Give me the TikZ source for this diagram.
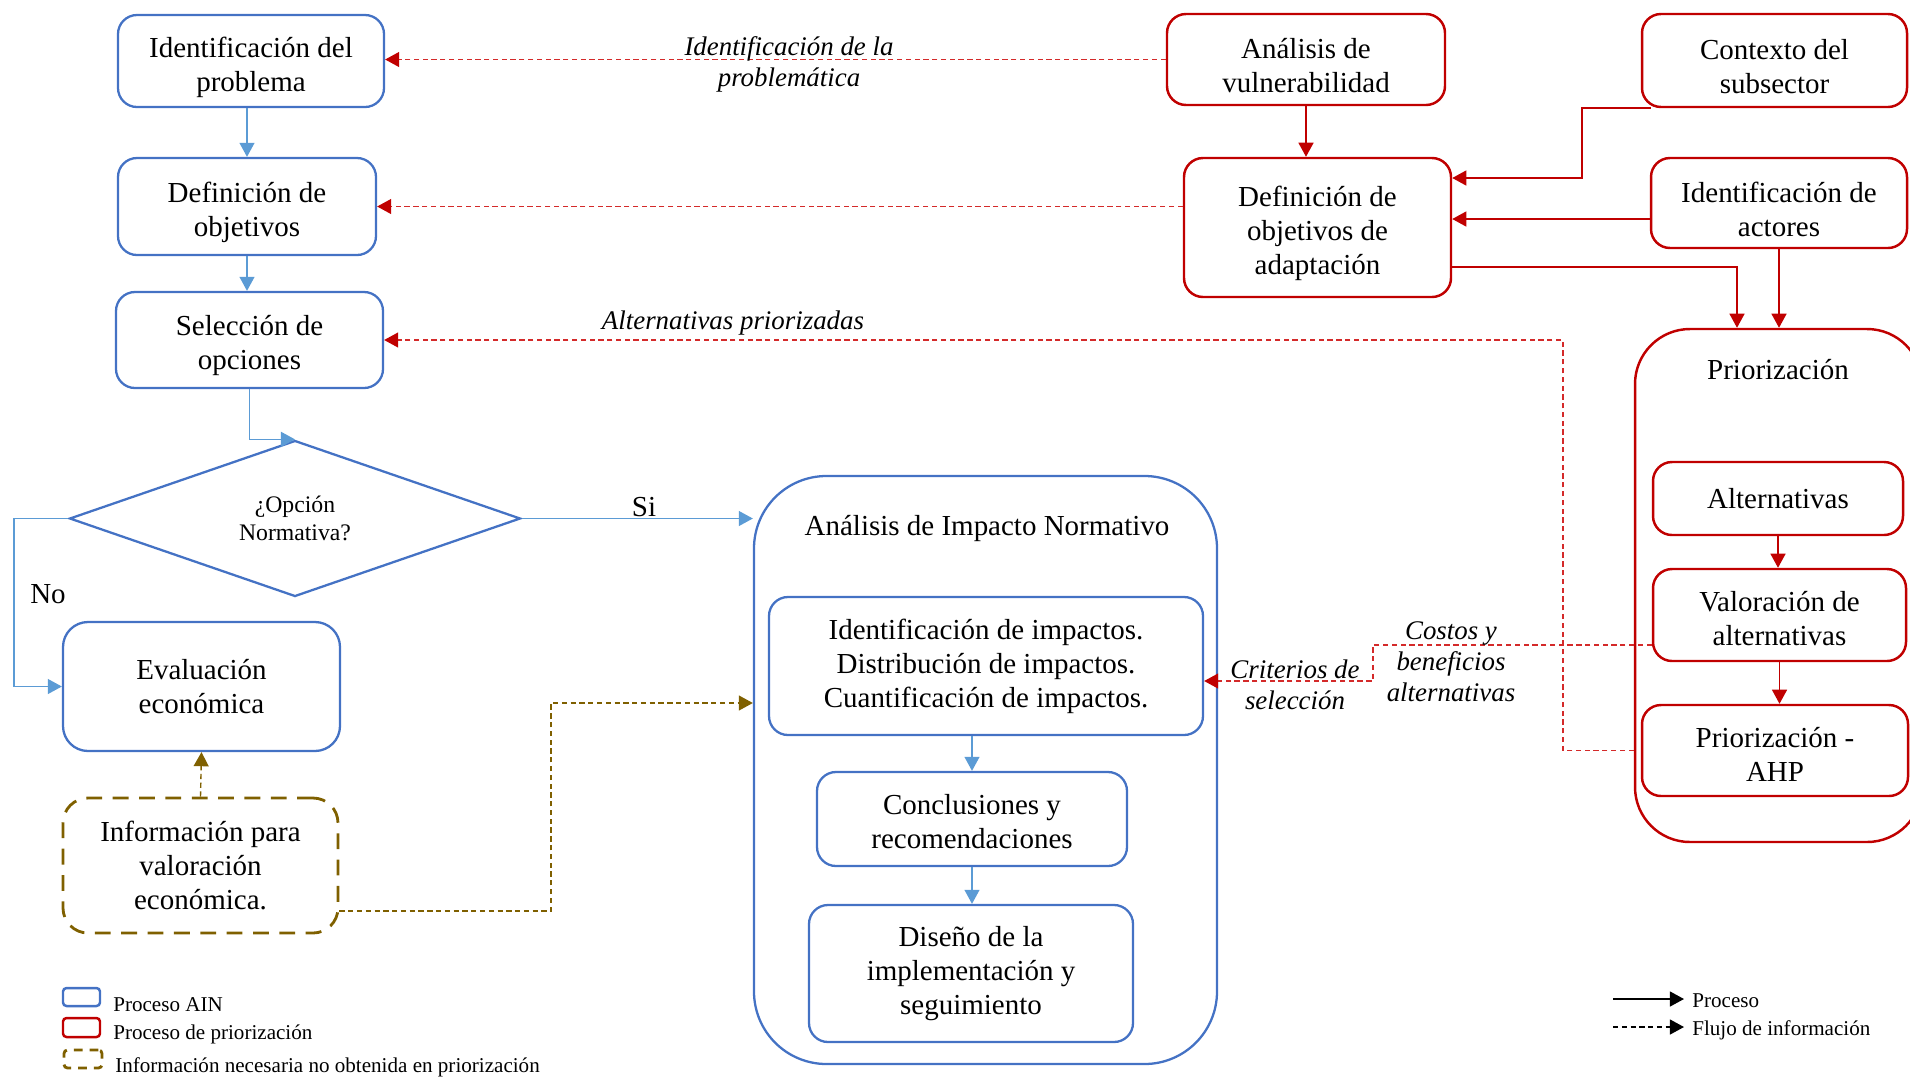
\documentclass[tikz,border=0pt]{standalone}
\usepackage{fontspec}
\setmainfont{Liberation Serif}
\usetikzlibrary{arrows.meta,shapes.geometric}

\definecolor{ainblue}{HTML}{4472C4}
\definecolor{flowblue}{HTML}{5B9BD5}
\definecolor{prred}{HTML}{C00000}
\definecolor{infored}{HTML}{D42A2A}
\definecolor{infobrown}{HTML}{7F6000}

\newcommand\bxfont{\fontsize{16.5}{19.3}\selectfont}
\newcommand\lblfont{\fontsize{15.3}{17.6}\selectfont\itshape}
\newcommand\qfont{\fontsize{13.5}{15.5}\selectfont}
\newcommand\legfont{\fontsize{12}{14}\selectfont}

\tikzset{
  corners/.style args={#1,#2,#3,#4}{at={({(#1+#3)/2},{(#2+#4)/2})},
    minimum width={(#3-#1)*0.02cm},minimum height={(#4-#2)*0.02cm}},
  boxbase/.style={inner sep=0pt, align=center, font=\bxfont, rounded corners=0.38cm},
  ainbox/.style={boxbase, draw=ainblue, line width=1.3pt},
  prbox/.style={boxbase, draw=prred, line width=1.4pt},
  infobox/.style={boxbase, draw=infobrown, line width=1.6pt, dash pattern=on 9pt off 6pt},
  headtip/.style={-{Triangle[length=8pt,width=8.5pt]}},
  barrow/.style={headtip, draw=flowblue, line width=0.8pt},
  rarrow/.style={headtip, draw=prred, line width=0.9pt},
  rdash/.style={draw=infored, line width=0.8pt, dash pattern=on 3pt off 2pt},
  rdasharrow/.style={rdash, -{Triangle[length=8pt,width=8.5pt,color=prred]}},
  brarrow/.style={headtip, draw=infobrown, line width=0.8pt, dash pattern=on 3pt off 2pt},
  lbl/.style={font=\lblfont, align=center, inner sep=0pt},
  plain/.style={font=\bxfont, align=center, inner sep=0pt},
  legtext/.style={font=\legfont, anchor=west, inner sep=0pt},
}

\begin{document}
\begin{tikzpicture}[x=0.02cm,y=-0.02cm]
\useasboundingbox (0,0) rectangle (1910,1080);
\clip (0,0) rectangle (1910,1080);

% ---------- AIN process (left column) ----------
\node[ainbox, corners={118,15,384,107}] (idp) {};
\node[plain] (idpt) at ([yshift=-0.13cm]idp.center) {Identificación del\\problema};
\node[ainbox, corners={118,158,376,255}] (defo) {};
\node[plain] (defot) at ([yshift=-0.12cm]defo.center) {Definición de\\objetivos};
\node[ainbox, corners={116,292,383,388}] (sel) {};
\node[plain] (selt) at ([yshift=-0.11cm]sel.center) {Selección de\\opciones};
\node[draw=ainblue, line width=1.3pt, diamond, inner sep=0pt, minimum width=9.02cm,
      minimum height=2.98cm, font=\qfont, align=center] (dia) at (295,518.5) {¿Opción\\Normativa?};
\node[ainbox, rounded corners=0.5cm, corners={63,622,340,751}] (eval) {Evaluación\\económica};
\node[infobox, rounded corners=0.5cm, corners={63,798,338,933}] (info) {Información para\\valoración\\económica.};

% ---------- Regulatory impact analysis ----------
\node[ainbox, rounded corners=1.45cm, corners={754,476,1217,1064}] (ain) {};
\node[plain] (aint) at (987,528) {Análisis de Impacto Normativo};
\node[ainbox, corners={769,597,1203,735}] (imp) {Identificación de impactos.\\Distribución de impactos.\\Cuantificación de impactos.};
\node[ainbox, corners={817,772,1127,866}] (conc) {};
\node[plain] (conct) at ([yshift=-0.05cm]conc.center) {Conclusiones y\\recomendaciones};
\node[ainbox, corners={809,905,1133,1042}] (dis) {Diseño de la\\implementación y\\seguimiento};

% ---------- Prioritisation process (right) ----------
\node[prbox, corners={1167,14,1445,105}] (avul) {};
\node[plain] (avult) at ([yshift=-0.13cm]avul.center) {Análisis de\\vulnerabilidad};
\node[prbox, corners={1184,158,1451,297}] (defa) {};
\node[plain] (defat) at ([yshift=-0.12cm]defa.center) {Definición de\\objetivos de\\adaptación};
\node[prbox, corners={1642,14,1907,107}] (ctx) {};
\node[plain] (ctxt) at ([yshift=-0.13cm]ctx.center) {Contexto del\\subsector};
\node[prbox, corners={1651,158,1907,248}] (act) {};
\node[plain] (actt) at ([yshift=-0.13cm]act.center) {Identificación de\\actores};
\node[prbox, rounded corners=1.1cm, corners={1635,329,1922,842}] (prio) {};
\node[plain] (priot) at (1778,370) {Priorización};
\node[prbox, corners={1653,462,1903,535}] (alt) {Alternativas};
\node[prbox, corners={1653,569,1906,661}] (val) {};
\node[plain] (valt) at ([yshift=-0.08cm]val.center) {Valoración de\\alternativas};
\node[prbox, corners={1642,705,1908,796}] (ahp) {};
\node[plain] (ahpt) at ([yshift=-0.08cm]ahp.center) {Priorización -\\AHP};

% ---------- elbow points ----------
\coordinate (nl) at (14,0);
\coordinate (bx) at (551,703);
\coordinate (iy) at (0,911);
\coordinate (cx) at (1582,178);
\coordinate (ay) at (0,219);
\coordinate (dy) at (1737,267);
\coordinate (xr) at (1563,0);
\coordinate (xc) at (1373,681);
\coordinate (vy) at (0,645);

% ---------- process flow ----------
\draw[barrow] (defo.north |- idp.south) -- (defo.north);
\draw[barrow] (defo.south) -- (defo.south |- sel.north);
\draw[barrow] (sel.south) |- (dia.north);
\draw[barrow] (dia.east) -- (dia.east -| ain.west);
\draw[barrow] (dia.west) -- (dia.west -| nl) |- (eval.west);
\draw[barrow] (imp.south -| conc.north) -- (conc.north);
\draw[barrow] (conc.south) -- (conc.south |- dis.north);

\draw[rarrow] (avul.south) -- (avul.south |- defa.north);
\draw[rarrow] ([xshift=0.2cm]ctx.south west) -| (cx) -- (cx -| defa.east);
\draw[rarrow] (act.west |- ay) -- (defa.east |- ay);
\draw[rarrow] (defa.east |- dy) -| (dy |- prio.north);
\draw[rarrow] (act.south) -- (act.south |- prio.north);
\draw[rarrow] (alt.south) -- (alt.south |- val.north);
\draw[rarrow] (val.south) -- (val.south |- ahp.north);

% ---------- information flow ----------
\draw[brarrow] (info.north) -- (eval.south);
\draw[brarrow] (info.east |- iy) -| (bx) -- (bx -| ain.west);

\draw[rdasharrow] (avul.west) -- (avul.west -| idp.east);
\draw[rdasharrow] (defa.west |- defo.east) -- (defo.east);
\draw[rdasharrow] (prio.west |- ahp.west) -- (xr |- ahp.west) |- (sel.east);
\draw[rdasharrow] (val.west |- vy) -| (xc) -- (xc -| imp.east);

% ---------- labels ----------
\node[plain] (lsi) at (644,507) {Si};
\node[plain] (lno) at (48,594) {No};
\node[lbl] (lprob) at (789,64) {Identificación de la\\problemática};
\node[lbl] (lalt) at (733,323) {Alternativas priorizadas};
\node[lbl] (lcost) at (1451,662) {Costos y\\beneficios\\alternativas};
\node[lbl] (lcrit) at (1295,685) {Criterios de\\selección};

% ---------- legend ----------
\node[draw=ainblue, line width=1.4pt, rounded corners=2pt, inner sep=0pt, corners={63,988,100,1006}] (kain) {};
\node[draw=prred, line width=1.4pt, rounded corners=2pt, inner sep=0pt, corners={63,1018,100,1037}] (kpr) {};
\node[draw=infobrown, line width=1.6pt, dash pattern=on 5pt off 4pt, rounded corners=2pt, inner sep=0pt, corners={64,1050,102,1068}] (kinf) {};
\node[legtext] (tain) at (113,1005) {Proceso AIN};
\node[legtext] (tpr) at (113,1034) {Proceso de priorización};
\node[legtext] (tinf) at (115,1067) {Información necesaria no obtenida en priorización};

\coordinate (lpa) at (1613,999);
\coordinate (lpb) at (1684,999);
\coordinate (lfa) at (1613,1027);
\coordinate (lfb) at (1684,1027);
\draw[headtip, black, line width=0.8pt] (lpa) -- (lpb);
\draw[headtip, black, line width=0.8pt, dash pattern=on 3pt off 2pt] (lfa) -- (lfb);
\node[legtext] (tproc) at (1692,1001) {Proceso};
\node[legtext] (tflu) at (1692,1030) {Flujo de información};
\end{tikzpicture}
\end{document}
